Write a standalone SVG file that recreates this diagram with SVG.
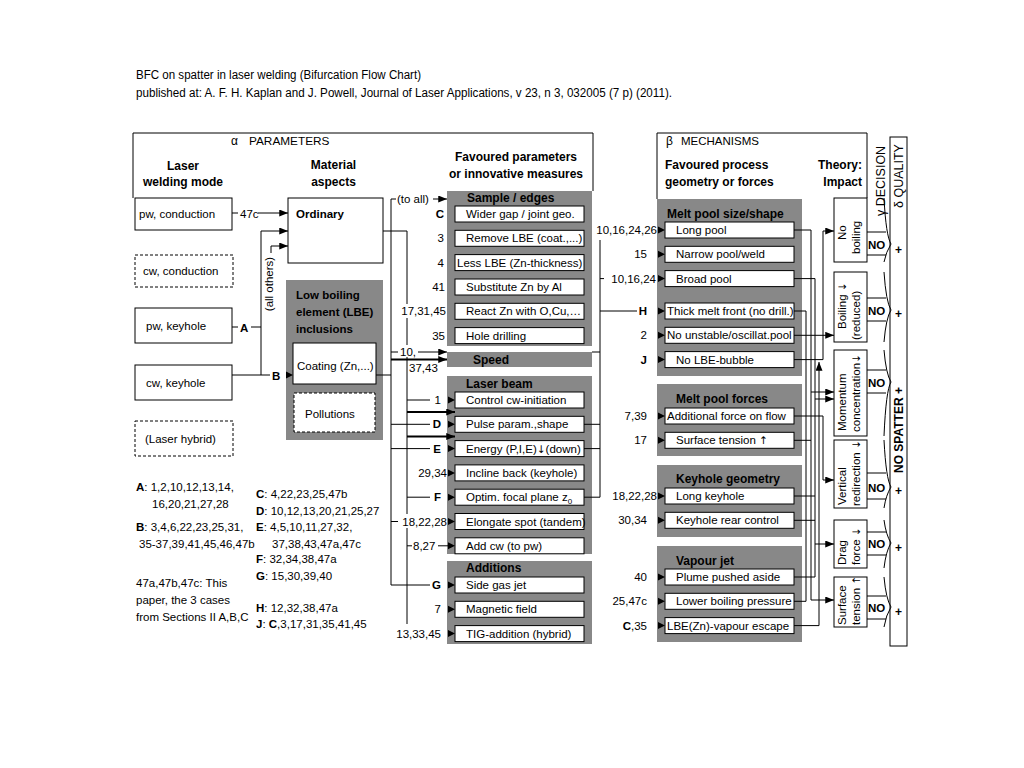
<svg xmlns="http://www.w3.org/2000/svg" width="1024" height="768" viewBox="0 0 1024 768">
<defs>
<style>
.t{font-family:"Liberation Sans",Arial,Helvetica,sans-serif;font-size:11.5px;fill:#000}
.b{font-weight:bold}
.h{font-size:12px;font-weight:bold}
.e{text-anchor:end}
.m{text-anchor:middle}
.ar{font-family:"DejaVu Sans",sans-serif;font-size:10.5px}
.bx{fill:#fff;stroke:#000;stroke-width:1}
.dsh{stroke-dasharray:3 2}
.gy{fill:#888888}
.ln{fill:none;stroke:#000;stroke-width:1}
.tk{stroke-width:1.8}
.wb{fill:#fff}
</style>
<marker id="ah" viewBox="0 0 10 8" refX="10" refY="4" markerWidth="9" markerHeight="7" markerUnits="userSpaceOnUse" orient="auto"><path d="M0,0 L10,4 L0,8 Z"/></marker>
<path id="tri" d="M0,-3.5 L7,0 L0,3.5 Z"/>
</defs>
<rect width="1024" height="768" fill="#fff"/>

<g id="title" class="t" style="font-size:12px">
<text x="136" y="78.5" textLength="285" lengthAdjust="spacingAndGlyphs">BFC on spatter in laser welding (Bifurcation Flow Chart)</text>
<text x="136" y="96.5" textLength="536" lengthAdjust="spacingAndGlyphs">published at: A. F. H. Kaplan and J. Powell, Journal of Laser Applications, v 23, n 3, 032005 (7 p) (2011).</text>
</g>

<g id="frames">
<path class="ln" d="M133,198 V133 H593 V191"/>
<path class="ln" d="M657,199 V133 H867 V198"/>
<rect class="bx" x="890" y="137" width="17" height="509"/>
<text class="t" x="231" y="145" style="font-size:12px">α</text>
<text class="t" x="249" y="145" style="font-size:11.8px">PARAMETERS</text>
<text class="t" x="666" y="145" style="font-size:12px">β</text>
<text class="t" x="681" y="145">MECHANISMS</text>
<text class="t h m" x="183" y="169.5">Laser</text>
<text class="t h m" x="183" y="186">welding mode</text>
<text class="t h m" x="333.5" y="169">Material</text>
<text class="t h m" x="333.5" y="186">aspects</text>
<text class="t h m" x="516" y="161">Favoured parameters</text>
<text class="t h m" x="516" y="178">or innovative measures</text>
<text class="t h" x="665" y="169">Favoured process</text>
<text class="t h" x="665" y="186">geometry or forces</text>
<text class="t h e" x="862" y="169">Theory:</text>
<text class="t h e" x="862" y="186">Impact</text>
<text class="t" transform="translate(885,216) rotate(-90)" style="font-size:12.5px">γ DECISION</text>
<text class="t" transform="translate(903,208) rotate(-90)" style="font-size:12.5px">δ QUALITY</text>
<text class="t h" transform="translate(903,473) rotate(-90)">NO SPATTER +</text>
</g>

<g id="node-pw-conduction"><rect class="bx" x="135" y="198" width="97" height="32"/><text class="t" x="139" y="217.5">pw, conduction</text></g>
<g id="node-cw-conduction"><rect class="bx dsh" x="135" y="255" width="98" height="32"/><text class="t" x="143" y="275">cw, conduction</text></g>
<g id="node-pw-keyhole"><rect class="bx" x="135" y="308" width="97" height="35"/><text class="t" x="146" y="330">pw, keyhole</text></g>
<g id="node-cw-keyhole"><rect class="bx" x="135" y="365" width="97" height="35"/><text class="t" x="146" y="387">cw, keyhole</text></g>
<g id="node-laser-hybrid"><rect class="bx dsh" x="135" y="421" width="98" height="35"/><text class="t" x="145" y="443">(Laser hybrid)</text></g>

<g id="node-ordinary"><rect class="bx" x="288" y="198" width="95" height="65"/><text class="t b" x="296" y="218">Ordinary</text></g>
<g id="node-lbe">
<rect class="gy" x="286" y="280" width="97" height="160"/>
<text class="t b" x="296" y="298.5">Low boiling</text>
<text class="t b" x="296" y="315.5">element (LBE)</text>
<text class="t b" x="296" y="332.5">inclusions</text>
</g>
<g id="node-coating"><rect class="bx" x="293" y="343" width="83" height="41"/><text class="t" x="297" y="370">Coating (Zn,...)</text></g>
<g id="node-pollutions"><rect class="bx dsh" x="294" y="393" width="81" height="39"/><text class="t" x="305" y="418">Pollutions</text></g>

<g id="node-sample-edges">
<rect class="gy" x="447" y="191" width="145" height="155"/>
<text class="t h" x="467" y="202">Sample / edges</text>
<rect class="bx" x="455" y="206" width="129" height="16"/><text class="t" x="466" y="218">Wider gap / joint geo.</text>
<rect class="bx" x="455" y="230.3" width="129" height="16"/><text class="t" x="466" y="242.3">Remove LBE (coat.,...)</text>
<rect class="bx" x="455" y="254.6" width="129" height="16"/><text class="t" x="457" y="266.6">Less LBE (Zn-thickness)</text>
<rect class="bx" x="455" y="279" width="129" height="16"/><text class="t" x="466" y="291">Substitute Zn by Al</text>
<rect class="bx" x="455" y="303.3" width="129" height="16"/><text class="t" x="466" y="315.3">React Zn with O,Cu,…</text>
<rect class="bx" x="455" y="327.6" width="129" height="16"/><text class="t" x="466" y="339.6">Hole drilling</text>
</g>
<g id="node-speed"><rect class="gy" x="447" y="352" width="145" height="15"/><text class="t h" x="473" y="363.5">Speed</text></g>
<g id="node-laser-beam">
<rect class="gy" x="447" y="376" width="145" height="178"/>
<text class="t h" x="466" y="387.5">Laser beam</text>
<rect class="bx" x="455" y="392" width="129" height="16"/><text class="t" x="466" y="404">Control cw-initiation</text>
<rect class="bx" x="455" y="416.3" width="129" height="16"/><text class="t" x="466" y="428.3">Pulse param.,shape</text>
<rect class="bx" x="455" y="440.6" width="129" height="16"/><text class="t" x="466" y="452.6">Energy (P,I,E)<tspan class="ar">↓</tspan>(down)</text>
<rect class="bx" x="455" y="464.9" width="129" height="16"/><text class="t" x="466" y="476.9">Incline back (keyhole)</text>
<rect class="bx" x="455" y="489.2" width="129" height="16"/><text class="t" x="466" y="501.2">Optim. focal plane z<tspan dy="3" style="font-size:8px">0</tspan></text>
<rect class="bx" x="455" y="513.5" width="129" height="16"/><text class="t" x="466" y="525.5">Elongate spot (tandem)</text>
<rect class="bx" x="455" y="537.8" width="129" height="16"/><text class="t" x="466" y="549.8">Add cw (to pw)</text>
</g>
<g id="node-additions">
<rect class="gy" x="447" y="561" width="145" height="83"/>
<text class="t h" x="466" y="571.5">Additions</text>
<rect class="bx" x="455" y="577" width="129" height="16"/><text class="t" x="466" y="589">Side gas jet</text>
<rect class="bx" x="455" y="601.3" width="129" height="16"/><text class="t" x="466" y="613.3">Magnetic field</text>
<rect class="bx" x="455" y="625.6" width="129" height="16"/><text class="t" x="466" y="637.6">TIG-addition (hybrid)</text>
</g>

<g id="node-melt-pool-size">
<rect class="gy" x="657" y="199" width="145" height="177"/>
<text class="t h" x="667" y="217.5">Melt pool size/shape</text>
<rect class="bx" x="665" y="222" width="129" height="16"/><text class="t" x="676" y="234">Long pool</text>
<rect class="bx" x="665" y="246.3" width="129" height="16"/><text class="t" x="676" y="258.3">Narrow pool/weld</text>
<rect class="bx" x="665" y="270.6" width="129" height="16"/><text class="t" x="676" y="282.6">Broad pool</text>
<rect class="bx" x="665" y="303" width="129" height="16"/><text class="t" x="667" y="315">Thick melt front (no drill.)</text>
<rect class="bx" x="665" y="327.3" width="129" height="16"/><text class="t" x="667" y="339.3">No unstable/oscillat.pool</text>
<rect class="bx" x="665" y="351.6" width="129" height="16"/><text class="t" x="676" y="363.6">No LBE-bubble</text>
</g>
<g id="node-melt-pool-forces">
<rect class="gy" x="657" y="384" width="145" height="72"/>
<text class="t h" x="676" y="402.5">Melt pool forces</text>
<rect class="bx" x="665" y="408" width="129" height="16"/><text class="t" x="667" y="420">Additional force on flow</text>
<rect class="bx" x="665" y="432.3" width="129" height="16"/><text class="t" x="676" y="444.3">Surface tension <tspan class="ar">↑</tspan></text>
</g>
<g id="node-keyhole-geometry">
<rect class="gy" x="657" y="465" width="145" height="72"/>
<text class="t h" x="676" y="482.5">Keyhole geometry</text>
<rect class="bx" x="665" y="488" width="129" height="16"/><text class="t" x="676" y="500">Long keyhole</text>
<rect class="bx" x="665" y="512.3" width="129" height="16"/><text class="t" x="676" y="524.3">Keyhole rear control</text>
</g>
<g id="node-vapour-jet">
<rect class="gy" x="657" y="546" width="145" height="96"/>
<text class="t h" x="676" y="564.5">Vapour jet</text>
<rect class="bx" x="665" y="569" width="129" height="16"/><text class="t" x="676" y="581">Plume pushed aside</text>
<rect class="bx" x="665" y="593.3" width="129" height="16"/><text class="t" x="676" y="605.3">Lower boiling pressure</text>
<rect class="bx" x="665" y="617.6" width="129" height="16"/><text class="t" x="667" y="629.6">LBE(Zn)-vapour escape</text>
</g>

<g id="node-no-boiling"><rect class="bx" x="834" y="198" width="33" height="64"/>
<text class="t" transform="translate(846,240) rotate(-90)">No</text>
<text class="t" transform="translate(859.5,254) rotate(-90)">boiling</text></g>
<g id="node-boiling-reduced"><rect class="bx" x="834" y="272" width="33" height="70"/>
<text class="t" transform="translate(846,329) rotate(-90)">Boiling <tspan class="ar">↓</tspan></text>
<text class="t" transform="translate(859.5,340) rotate(-90)">(reduced)</text></g>
<g id="node-momentum"><rect class="bx" x="834" y="350" width="33" height="86"/>
<text class="t" transform="translate(846,431) rotate(-90)">Momentum</text>
<text class="t" transform="translate(859.5,432) rotate(-90)">concentration<tspan class="ar">↓</tspan></text></g>
<g id="node-vertical"><rect class="bx" x="834" y="440" width="33" height="68"/>
<text class="t" transform="translate(846,505) rotate(-90)">Vertical</text>
<text class="t" transform="translate(859.5,506) rotate(-90)">redirection <tspan class="ar">↓</tspan></text></g>
<g id="node-drag"><rect class="bx" x="834" y="520" width="33" height="48"/>
<text class="t" transform="translate(846,565) rotate(-90)">Drag</text>
<text class="t" transform="translate(859.5,565) rotate(-90)">force <tspan class="ar">↓</tspan></text></g>
<g id="node-surface-tension"><rect class="bx" x="834" y="577" width="33" height="50"/>
<text class="t" transform="translate(846,625) rotate(-90)">Surface</text>
<text class="t" transform="translate(859.5,625) rotate(-90)">tension <tspan class="ar">↑</tspan></text></g>

<g id="decisions">
<path class="ln" d="M884,198 Q886,236 891,244 Q886,252 884,262 M867,232 H886 M867,255 H886"/>
<text class="t b" x="868" y="249">NO</text><text class="t h" x="895" y="254">+</text>
<path class="ln" d="M884,272 Q886,302 891,310 Q886,318 884,342 M867,298 H886 M867,321 H886"/>
<text class="t b" x="868" y="315">NO</text><text class="t h" x="895" y="318">+</text>
<path class="ln" d="M884,350 Q886,374 891,382 Q886,390 884,436 M867,370 H886 M867,393 H886"/>
<text class="t b" x="868" y="387">NO</text>
<path class="ln" d="M884,440 Q886,479 891,487 Q886,495 884,508 M867,473 H886 M867,499 H886"/>
<text class="t b" x="868" y="492">NO</text><text class="t h" x="895" y="495">+</text>
<path class="ln" d="M884,520 Q886,535 891,543 Q886,551 884,568 M867,532 H886 M867,555 H886"/>
<text class="t b" x="868" y="548">NO</text><text class="t h" x="895" y="552">+</text>
<path class="ln" d="M884,577 Q886,599 891,607 Q886,615 884,627 M867,596 H886 M867,619 H886"/>
<text class="t b" x="868" y="612">NO</text><text class="t h" x="895" y="616">+</text>
</g>

<g id="connectors">
<path class="ln" d="M232,213 H238"/>
<text class="t" x="240" y="217.5">47c</text>
<path class="ln" d="M258,213 H288" marker-end="url(#ah)"/>
<path class="ln" d="M232,327 H238"/>
<text class="t b" x="240" y="331.5">A</text>
<path class="ln" d="M251,327 H261 V231 H288" marker-end="url(#ah)"/>
<path class="ln" d="M261,327 V375"/>
<path class="ln" d="M271,253 V246 H288" marker-end="url(#ah)"/>
<text class="t m" transform="translate(273,284) rotate(-90)">(all others)</text>
<path class="ln" d="M232,375 H270"/>
<text class="t b" x="272" y="379.5">B</text>
<use href="#tri" x="286" y="375"/>
<path class="ln" d="M383,231 H407 V624"/>
<path class="ln" d="M376,375 H391"/>
<path class="ln" d="M391,199 V585 H430"/>
<path class="ln" d="M391,199 H396"/>
<text class="t" x="397" y="203">(to all)</text>
<path class="ln" d="M433,199 H447" marker-end="url(#ah)"/>
<text class="t b e" x="444" y="218">C</text>
<text class="t e" x="444" y="242.3">3</text>
<text class="t e" x="444" y="266.6">4</text>
<text class="t e" x="445" y="291">41</text>
<rect class="wb" x="401" y="304" width="46" height="14"/>
<text class="t e" x="446" y="315.3">17,31,45</text>
<text class="t e" x="445" y="339.6">35</text>
<path class="ln" d="M391,352 H398"/>
<rect class="wb" x="399" y="345" width="18" height="12"/>
<text class="t" x="400" y="356">10,</text>
<path class="ln" d="M418,352 H447" marker-end="url(#ah)"/>
<path class="ln tk" d="M391,359.5 H447" marker-end="url(#ah)"/>
<text class="t" x="409" y="372">37,43</text>
<path class="ln" d="M407,400 H430"/>
<text class="t e" x="441" y="404">1</text>
<use href="#tri" x="448" y="400"/>
<path class="ln tk" d="M407,412 H455" marker-end="url(#ah)"/>
<path class="ln" d="M391,424.3 H430"/>
<text class="t b e" x="441" y="428.3">D</text>
<use href="#tri" x="448" y="424.3"/>
<path class="ln tk" d="M407,436.5 H455" marker-end="url(#ah)"/>
<path class="ln" d="M391,448.6 H430"/>
<text class="t b e" x="441" y="452.6">E</text>
<use href="#tri" x="448" y="448.6"/>
<text class="t e" x="447" y="476.9">29,34</text>
<use href="#tri" x="448" y="472.9"/>
<path class="ln" d="M407,497.2 H430"/>
<text class="t b e" x="441" y="501.2">F</text>
<use href="#tri" x="448" y="497.2"/>
<path class="ln" d="M391,521.5 H398"/>
<rect class="wb" x="401" y="514" width="46" height="14"/>
<text class="t e" x="447" y="525.5">18,22,28</text>
<use href="#tri" x="448" y="521.5"/>
<path class="ln" d="M407,545.8 H412"/>
<text class="t" x="413" y="549.8">8,27</text>
<path class="ln" d="M438,545.8 H448"/>
<use href="#tri" x="448" y="545.8"/>
<text class="t b e" x="441" y="589">G</text>
<use href="#tri" x="448" y="585"/>
<text class="t e" x="441" y="613.3">7</text>
<use href="#tri" x="448" y="609.3"/>
<text class="t e" x="441" y="637.6">13,33,45</text>
<use href="#tri" x="448" y="633.6"/>
<path class="ln" d="M600,240 V497.2"/>
<path class="ln" d="M592,352 H600 M584,424.3 H600 M584,448.6 H600 M584,497.2 H600"/>
<text class="t e" x="657" y="234">10,16,24,26</text>
<use href="#tri" x="658" y="230"/>
<text class="t e" x="647" y="258.3">15</text>
<use href="#tri" x="658" y="254.3"/>
<path class="ln" d="M600,278.6 H604"/>
<text class="t e" x="656" y="282.6">10,16,24</text>
<use href="#tri" x="658" y="278.6"/>
<path class="ln" d="M600,311 H637"/>
<text class="t b e" x="647" y="315">H</text>
<use href="#tri" x="658" y="311"/>
<text class="t e" x="647" y="339.3">2</text>
<use href="#tri" x="658" y="335.3"/>
<text class="t b e" x="647" y="363.6">J</text>
<use href="#tri" x="658" y="359.6"/>
<text class="t e" x="647" y="420">7,39</text>
<use href="#tri" x="658" y="416"/>
<text class="t e" x="647" y="444.3">17</text>
<use href="#tri" x="658" y="440.3"/>
<text class="t e" x="657" y="500">18,22,28</text>
<use href="#tri" x="658" y="496"/>
<text class="t e" x="647" y="524.3">30,34</text>
<use href="#tri" x="658" y="520.3"/>
<text class="t e" x="647" y="581">40</text>
<use href="#tri" x="658" y="577"/>
<text class="t e" x="647" y="605.3">25,47c</text>
<use href="#tri" x="658" y="601.3"/>
<text class="t e" x="647" y="629.6"><tspan class="b">C</tspan>,35</text>
<use href="#tri" x="658" y="625.6"/>
<path class="ln" d="M794,230 H811 V600 H834" marker-end="url(#ah)"/>
<path class="ln" d="M811,392 H834" marker-end="url(#ah)"/>
<path class="ln" d="M794,278.6 H815 V544 H834" marker-end="url(#ah)"/>
<path class="ln" d="M815,399 H834" marker-end="url(#ah)"/>
<path class="ln" d="M794,440.3 H811 M794,496 H815 M794,520.3 H815 M794,577 H815 V544"/>
<path class="ln" d="M794,335.3 H834" marker-end="url(#ah)"/>
<path class="ln" d="M794,311 H806 V601.3 H794"/>
<path class="ln" d="M794,359.6 H823 V231 H834" marker-end="url(#ah)"/>
<path class="ln" d="M794,416 H823 V480 H834" marker-end="url(#ah)"/>
<path class="ln" d="M794,625.6 H819 V362" marker-end="url(#ah)"/>
</g>

<g id="references" class="t">
<text x="136" y="491"><tspan class="b">A</tspan>: 1,2,10,12,13,14,</text>
<text x="152" y="508">16,20,21,27,28</text>
<text x="136" y="531"><tspan class="b">B</tspan>: 3,4,6,22,23,25,31,</text>
<text x="139" y="548">35-37,39,41,45,46,47b</text>
<text x="136" y="587">47a,47b,47c: This</text>
<text x="136" y="604">paper, the 3 cases</text>
<text x="136" y="621">from Sections II A,B,C</text>
<text x="256" y="498"><tspan class="b">C</tspan>: 4,22,23,25,47b</text>
<text x="256" y="515"><tspan class="b">D</tspan>: 10,12,13,20,21,25,27</text>
<text x="256" y="531"><tspan class="b">E</tspan>: 4,5,10,11,27,32,</text>
<text x="272" y="548">37,38,43,47a,47c</text>
<text x="256" y="563"><tspan class="b">F</tspan>: 32,34,38,47a</text>
<text x="256" y="580"><tspan class="b">G</tspan>: 15,30,39,40</text>
<text x="256" y="612"><tspan class="b">H</tspan>: 12,32,38,47a</text>
<text x="256" y="628"><tspan class="b">J</tspan>: <tspan class="b">C</tspan>,3,17,31,35,41,45</text>
</g>
</svg>
